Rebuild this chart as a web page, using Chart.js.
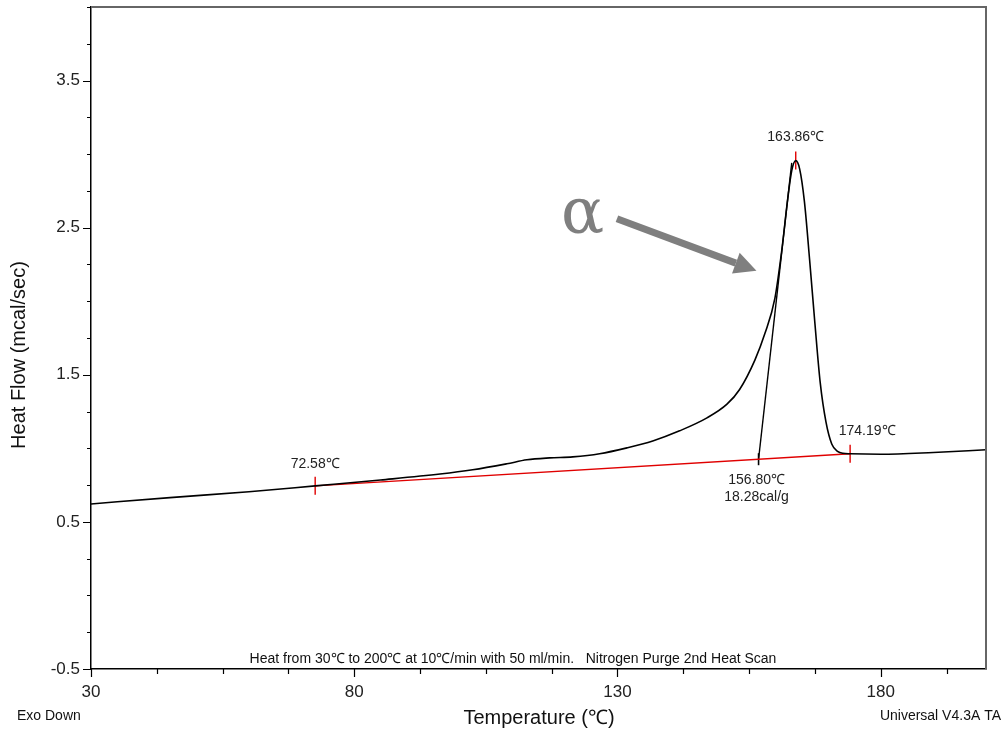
<!DOCTYPE html>
<html>
<head>
<meta charset="utf-8">
<script src="https://cdn.jsdelivr.net/npm/chart.js@4.4.1/dist/chart.umd.min.js"></script>
<style>
  html, body { margin: 0; padding: 0; background: #fff; }
  #wrap { width: 1004px; height: 734px; }
</style>
</head>
<body>
<div id="wrap"><canvas id="dsc" width="1004" height="734"></canvas></div>
<script>
// ── DSC trace (2nd heat scan) ────────────────────────────────────────────────
const temps    = [30, 45, 60, 72.58, 85, 96.3, 102.5, 109, 112.8, 117.1, 121.5, 126.6, 131.8, 136.7, 141.8, 147, 150.8, 153.2, 156.1, 158.0, 159.9, 161.2, 162.3, 163.1, 163.86, 164.6, 165.5, 166.5, 167.5, 168.5, 169.6, 170.7, 171.8, 172.8, 174.19, 180, 190, 200];
const heatFlow = [0.622, 0.665, 0.705, 0.745, 0.785, 0.825, 0.854, 0.895, 0.922, 0.935, 0.942, 0.963, 1.003, 1.05, 1.119, 1.207, 1.30, 1.40, 1.60, 1.78, 2.02, 2.343, 2.684, 2.888, 2.956, 2.90, 2.68, 2.28, 1.85, 1.45, 1.18, 1.03, 0.98, 0.966, 0.963, 0.960, 0.972, 0.99];

// integration baseline and onset tangent
const baseTemps = [72.58, 174.19];
const baseFlow  = [0.745, 0.963];
const tangTemps = [156.80, 163.1];
const tangFlow  = [0.926, 2.94];

// marked points and their labels
const markTemps  = [72.58, 163.86, 174.19];
const markFlow   = [0.745, 2.956, 0.963];
const markLabels = ["72.58℃", "163.86℃", "174.19℃"];
const onsetTemp  = 156.80;
const onsetFlow  = 0.926;
const onsetText  = ["156.80℃", "18.28cal/g"];

// axis ticks
const xTickLabels = [30, 80, 130, 180];
const yTickLabels = [-0.5, 0.5, 1.5, 2.5, 3.5];
const xMinorStep = 12.5;
const yMinorStep = 0.25;

// phase arrow (data coordinates)
const arrowFrom = [129.9, 2.56];
const arrowTo   = [156.4, 2.207];
const alphaAt   = [123.4, 2.55];

const FONT = "'Liberation Sans', Arial, sans-serif";

const pts = (xs, ys) => xs.map((x, i) => ({ x: x, y: ys[i] }));
const near = (v, list) => list.some(t => Math.abs(t - v) < 1e-6);

const decorations = {
    id: "decorations",
    afterDatasetsDraw(chart) {
        const { ctx, chartArea: a, scales: { x, y } } = chart;
        ctx.save();

        // frame: top and right in grey
        ctx.strokeStyle = "#666";
        ctx.lineWidth = 2;
        ctx.beginPath();
        ctx.moveTo(a.left, a.top);
        ctx.lineTo(a.right, a.top);
        ctx.lineTo(a.right, a.bottom);
        ctx.stroke();

        // tick marks
        ctx.strokeStyle = "#000";
        ctx.lineWidth = 1.2;
        ctx.beginPath();
        y.ticks.forEach(t => {
            const py = Math.round(y.getPixelForValue(t.value)) + 0.5;
            const len = near(t.value, yTickLabels) ? 8 : 4;
            ctx.moveTo(a.left - len, py);
            ctx.lineTo(a.left, py);
        });
        x.ticks.forEach(t => {
            const px = Math.round(x.getPixelForValue(t.value)) + 0.5;
            const len = near(t.value, xTickLabels) ? 8 : 5;
            ctx.moveTo(px, a.bottom);
            ctx.lineTo(px, a.bottom + len);
        });
        ctx.stroke();

        // point labels
        ctx.fillStyle = "#222";
        ctx.font = "14px " + FONT;
        ctx.textAlign = "center";
        ctx.textBaseline = "middle";
        const offs = [[0, -22], [0, -23], [17, -23]];
        markTemps.forEach((t, i) => {
            const px = x.getPixelForValue(t), py = y.getPixelForValue(markFlow[i]);
            ctx.fillText(markLabels[i], px + offs[i][0], py + offs[i][1]);
        });
        const ox = x.getPixelForValue(onsetTemp), oy = y.getPixelForValue(onsetFlow);
        ctx.fillText(onsetText[0], ox - 2, oy + 21);
        ctx.fillText(onsetText[1], ox - 2, oy + 38);

        // arrow
        const x0 = x.getPixelForValue(arrowFrom[0]), y0 = y.getPixelForValue(arrowFrom[1]);
        const x1 = x.getPixelForValue(arrowTo[0]),   y1 = y.getPixelForValue(arrowTo[1]);
        const ang = Math.atan2(y1 - y0, x1 - x0);
        const head = 22, hw = 11;
        const bx = x1 - head * Math.cos(ang), by = y1 - head * Math.sin(ang);
        ctx.strokeStyle = "#7f7f7f";
        ctx.fillStyle = "#7f7f7f";
        ctx.lineWidth = 7;
        ctx.lineCap = "butt";
        ctx.beginPath();
        ctx.moveTo(x0, y0);
        ctx.lineTo(bx, by);
        ctx.stroke();
        ctx.beginPath();
        ctx.moveTo(x1, y1);
        ctx.lineTo(bx + hw * Math.sin(ang), by - hw * Math.cos(ang));
        ctx.lineTo(bx - hw * Math.sin(ang), by + hw * Math.cos(ang));
        ctx.closePath();
        ctx.fill();

        ctx.font = "64px 'DejaVu Serif', 'Liberation Serif', serif";
        ctx.fillText("α", x.getPixelForValue(alphaAt[0]), y.getPixelForValue(alphaAt[1]) - 4);

        ctx.restore();
    },
    afterDraw(chart) {
        const { ctx, chartArea: a } = chart;
        ctx.save();
        ctx.fillStyle = "#111";
        ctx.textBaseline = "middle";

        ctx.font = "14px " + FONT;
        ctx.textAlign = "center";
        ctx.fillText("Heat from 30℃ to 200℃ at 10℃/min with 50 ml/min.   Nitrogen Purge 2nd Heat Scan", 513, a.bottom - 10);

        ctx.textAlign = "left";
        ctx.fillText("Exo Down", 17, 716);
        ctx.textAlign = "right";
        ctx.fillText("Universal V4.3A TA", 1001, 716);

        ctx.font = "20px " + FONT;
        ctx.textAlign = "center";
        ctx.fillText("Temperature (℃)", 539, 718);

        ctx.translate(19, 355);
        ctx.rotate(-Math.PI / 2);
        ctx.fillText("Heat Flow (mcal/sec)", 0, 0);
        ctx.restore();
    }
};

const ctx = document.getElementById("dsc").getContext("2d");

new Chart(ctx, {
    type: "line",
    data: {
        datasets: [
            {
                label: "Heat flow",
                data: pts(temps, heatFlow),
                borderColor: "#000",
                borderWidth: 1.6,
                pointRadius: 0,
                cubicInterpolationMode: "monotone",
            },
            {
                label: "Baseline",
                data: pts(baseTemps, baseFlow),
                borderColor: "#e00000",
                borderWidth: 1.4,
                pointRadius: 0,
            },
            {
                label: "Onset tangent",
                data: pts(tangTemps, tangFlow),
                borderColor: "#000",
                borderWidth: 1.4,
                pointRadius: 0,
            },
            {
                label: "Marks",
                data: pts(markTemps, markFlow),
                showLine: false,
                pointStyle: "line",
                rotation: 90,
                pointRadius: 9,
                borderColor: "#e00000",
                pointBorderColor: "#e00000",
                pointBorderWidth: 1.4,
            },
            {
                label: "Onset",
                data: [{ x: onsetTemp, y: onsetFlow }],
                showLine: false,
                pointStyle: "line",
                rotation: 90,
                pointRadius: 6,
                pointBorderColor: "#000",
                pointBorderWidth: 1.6,
            }
        ]
    },
    options: {
        responsive: false,
        animation: false,
        layout: { autoPadding: false, padding: { top: 7, right: 18, left: 0, bottom: 0 } },
        plugins: {
            legend: { display: false },
            tooltip: { enabled: false }
        },
        scales: {
            x: {
                type: "linear",
                min: 30,
                max: 200,
                afterBuildTicks: s => {
                    const t = [];
                    for (let v = 30; v < 200; v += xMinorStep) t.push({ value: v });
                    s.ticks = t;
                },
                afterFit: s => { s.height = 65; },
                grid: { display: true, drawOnChartArea: false, drawTicks: false },
                border: { display: true, color: "#000", width: 1.5 },
                ticks: {
                    autoSkip: false,
                    maxRotation: 0,
                    padding: 13,
                    color: "#222",
                    font: { family: FONT, size: 17 },
                    callback: v => near(v, xTickLabels) ? String(v) : ""
                }
            },
            y: {
                type: "linear",
                min: -0.5,
                max: 4.0,
                afterBuildTicks: s => {
                    const t = [];
                    for (let k = 0; k <= 18; k++) t.push({ value: -0.5 + k * yMinorStep });
                    s.ticks = t;
                },
                afterFit: s => { s.width = 91; s.paddingTop = 0; s.paddingBottom = 0; },
                grid: { display: true, drawOnChartArea: false, drawTicks: false },
                border: { display: true, color: "#000", width: 1.5 },
                ticks: {
                    autoSkip: false,
                    padding: 11,
                    color: "#222",
                    font: { family: FONT, size: 17 },
                    callback: v => near(v, yTickLabels) ? String(v) : ""
                }
            }
        }
    },
    plugins: [decorations]
});
</script>
</body>
</html>
